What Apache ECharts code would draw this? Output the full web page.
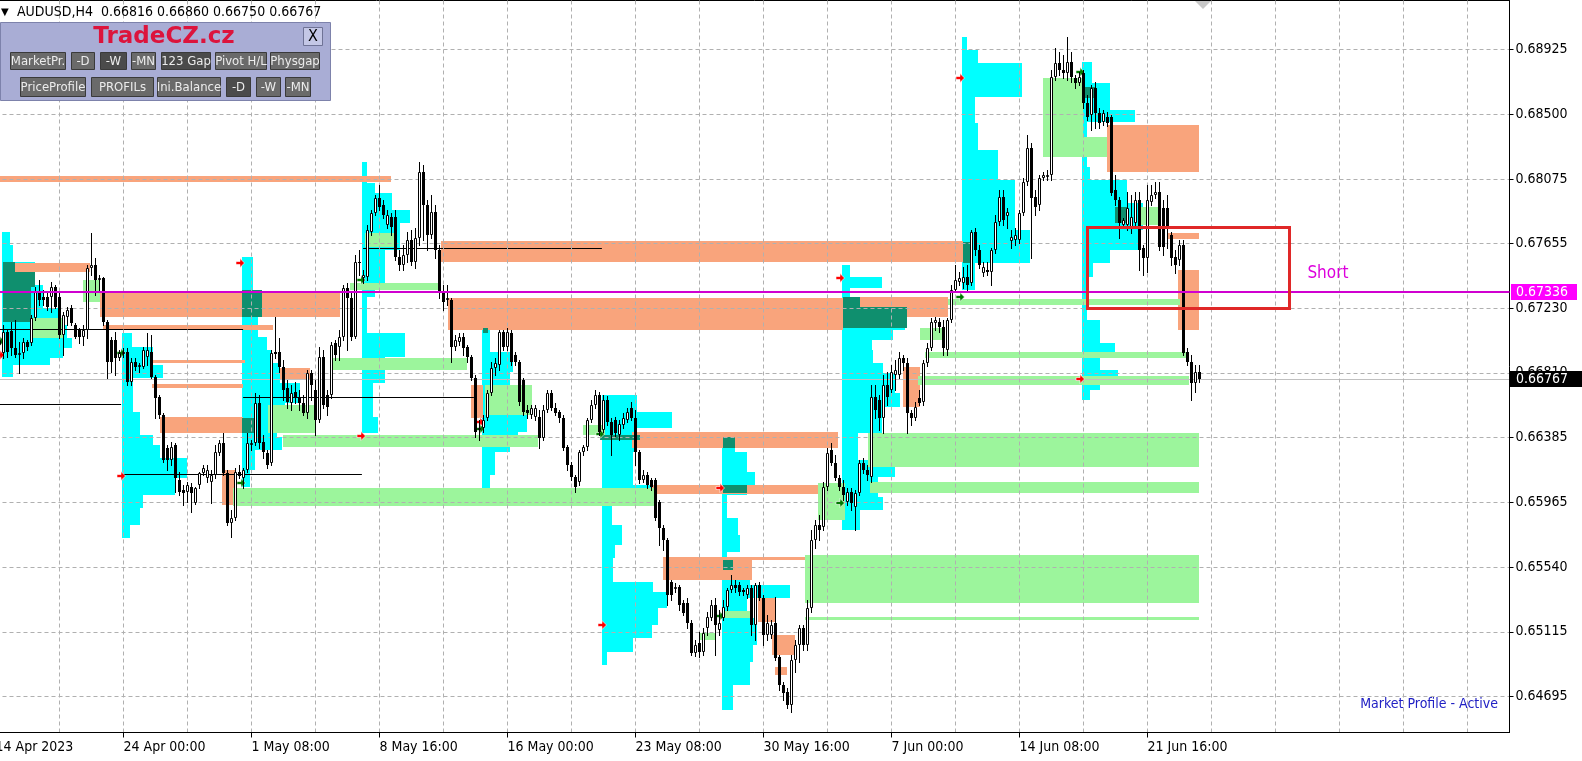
<!DOCTYPE html>
<html><head><meta charset="utf-8">
<script src="https://cdn.jsdelivr.net/npm/echarts@6/dist/echarts.min.js"></script>
<style>html,body{margin:0;padding:0;background:#fff;}#c{width:1582px;height:761px;}</style>
</head><body><div id="c"></div>
<script>
const FONT = '"DejaVu Sans Condensed","Liberation Sans Narrow","DejaVu Sans",sans-serif';

// ---------- axis labels ----------
const priceLabels = ['0.64695','0.65115','0.65540','0.65965','0.66385','0.66810','0.67230','0.67655','0.68075','0.68500','0.68925'];
const timeLabels = ['14 Apr 2023','24 Apr 00:00','1 May 08:00','8 May 16:00','16 May 00:00','23 May 08:00','30 May 16:00','7 Jun 00:00','14 Jun 08:00','21 Jun 16:00'];
const barsPerLabel = 32;
const symbolName = 'AUDUSD,H4';

// ---------- H4 candles [open, close, low, high] in 1e-5 units, bar index from 1 ----------
const ohlcStartBar = 1;
const ohlc = [
[66992,67024,66926,67057],[66939,67077,66907,67123],[67077,66946,66913,67090],[67083,66972,66926,67143],[66972,66926,66913,67156],
[66926,66939,66808,67011],[66939,67011,66907,67037],[67011,66979,66959,67024],[67005,67169,66992,67188],[67169,67338,67156,67371],
[67338,67286,67253,67417],[67306,67286,67253,67351],[67306,67240,67221,67338],[67306,67371,67207,67404],[67371,67240,67234,67384],
[67306,67057,67037,67338],[67057,67188,66926,67207],[67175,67221,67123,67240],[67234,67136,67123,67253],[67123,67044,67037,67136],
[67090,67044,67005,67103],[67044,67090,66992,67123],[67090,67496,67037,67515],[67496,67515,67450,67724],[67515,67417,67319,67561],
[67417,67430,67338,67450],[67430,67143,67123,67437],[67143,66880,66776,67156],[67024,66880,66815,67044],[67024,66907,66795,67077],
[66907,66939,66893,66959],[66939,66946,66913,66972],[66946,66749,66730,66972],[66749,66880,66730,66907],[66880,66848,66828,66907],
[66848,66861,66815,66874],[66848,66959,66841,66979],[66913,66959,66861,67070],[66946,66782,66776,67057],[66782,66645,66514,66795],
[66651,66534,66514,66664],[66534,66239,66226,66547],[66318,66239,66174,66337],[66239,66324,66207,66357],[66337,66122,66030,66350],
[66109,66030,66010,66161],[66043,66023,65945,66076],[66030,66076,65965,66096],[66063,66023,65899,66089],[65958,66056,65952,66063],
[66076,66154,66056,66161],[66154,66187,66141,66207],[66122,66174,66096,66207],[66096,66141,65958,66174],[66141,66292,66122,66337],
[66285,66350,66272,66370],[66350,66154,66141,66416],[66154,65827,65814,66174],[65827,65860,65735,65912],[65860,66161,65847,66187],
[66161,66135,66122,66207],[66122,66174,66056,66187],[66174,66350,66161,66416],[66337,66350,66305,66370],[66350,66612,66337,66677],
[66612,66350,66318,66664],[66357,66292,66252,66403],[66285,66207,66187,66305],[66220,66939,66207,66959],[66946,66933,66907,67175],
[66946,66848,66815,67037],[66848,66697,66632,66893],[66710,66619,66580,66763],[66612,66677,66567,66730],[66684,66645,66612,66749],
[66651,66612,66567,66697],[66612,66547,66534,66664],[66547,66808,66514,66828],[66808,66730,66632,66828],[66697,66501,66403,66763],
[66501,66913,66488,66979],[66913,66599,66580,66959],[66664,66586,66534,66697],[66664,66992,66645,67011],[67005,66926,66893,67024],
[66979,67044,66893,67090],[67044,67365,67024,67384],[67365,67299,66959,67397],[67299,67044,67024,67332],[67044,67535,67037,67580],
[67535,67528,67450,67613],[67430,67450,67397,67482],[67437,67744,67417,67777],[67731,67855,67711,67875],[67855,67954,67842,67973],
[67954,67894,67875,68039],[67907,67842,67823,67940],[67777,67842,67757,67875],[67829,67764,67711,67855],[67829,67567,67548,67875],
[67567,67515,67482,67613],[67515,67580,67482,67646],[67580,67679,67535,67731],[67679,67535,67515,67744],[67535,67692,67496,67757],
[67692,68124,67646,68189],[68124,67907,67679,68169],[67907,67711,67613,67940],[67711,67862,67692,67973],[67862,67613,67561,67907],
[67613,67338,67299,67646],[67338,67273,67221,67384],[67286,67299,67253,67384],[67286,66979,66880,67299],[66979,67024,66959,67057],
[67011,67044,66992,67070],[67044,66972,66926,67070],[66979,66913,66880,66992],[66913,66776,66763,66926],[66776,66422,66390,66795],
[66436,66449,66370,66501],[66449,66501,66422,66534],[66514,66677,66501,66697],[66677,66841,66664,66880],[66841,66874,66795,66907],
[66861,67077,66828,67090],[67077,66979,66959,67090],[66979,67077,66959,67103],[67070,66880,66861,67090],[66926,66880,66861,66946],
[66880,66619,66599,66893],[66763,66553,66534,66776],[66567,66547,66514,66599],[66534,66580,66514,66599],[66521,66580,66501,66599],
[66521,66383,66318,66567],[66383,66567,66370,66599],[66567,66677,66553,66697],[66677,66580,66567,66697],[66580,66547,66534,66612],
[66553,66514,66488,66567],[66514,66318,66305,66534],[66324,66207,66174,66337],[66207,66128,66109,66226],[66128,66063,66030,66141],
[66096,66292,66076,66305],[66292,66324,66272,66337],[66324,66501,66305,66514],[66501,66599,66488,66632],[66599,66664,66580,66697],
[66664,66422,66403,66684],[66436,66632,66422,66664],[66632,66488,66468,66658],[66488,66403,66272,66514],[66501,66416,66396,66521],
[66403,66475,66370,66501],[66468,66514,66449,66547],[66501,66553,66488,66580],[66580,66514,66501,66619],[66514,66292,66207,66567],
[66292,66109,66089,66305],[66109,66141,66096,66174],[66141,66076,66056,66161],[66109,66063,66043,66122],[66109,65860,65847,66122],
[65965,65794,65683,65978],[65794,65716,65650,65814],[65716,65356,65291,65729],[65441,65356,65323,65454],[65395,65408,65375,65434],
[65408,65291,65258,65421],[65304,65238,65225,65323],[65304,65173,65140,65336],[65173,64976,64963,65192],[64976,65029,64957,65061],
[65042,64983,64950,65114],[64983,65107,64963,65140],[65140,65212,65094,65245],[65205,65291,65192,65323],[65291,65160,64963,65336],
[65127,65173,65094,65258],[65205,65278,65192,65323],[65278,65389,65258,65402],[65389,65421,65375,65487],[65421,65402,65375,65454],
[65421,65375,65356,65441],[65389,65375,65356,65402],[65356,65402,65336,65421],[65402,65160,65094,65421],[65160,65421,65061,65434],
[65421,65336,65323,65441],[65336,65094,65029,65356],[65094,65173,65061,65225],[65094,65160,65074,65192],[65173,64944,64931,65343],
[64950,64767,64734,64963],[64767,64715,64669,64787],[64721,64636,64617,64747],[64636,64931,64591,64963],[64931,65029,64852,65061],
[65029,65140,64918,65160],[65140,65029,64996,65160],[65029,65271,64996,65323],[65271,65716,65245,65781],[65716,65814,65663,65847],
[65814,65781,65716,65879],[65801,66063,65781,66096],[66063,66285,66043,66318],[66305,66220,66207,66350],[66220,66122,66109,66272],
[66122,66063,66043,66141],[66063,66010,65978,66109],[65965,66030,65945,66056],[66030,65958,65912,66056],[65932,66023,65781,66043],
[66023,66220,66010,66239],[66220,66174,66154,66252],[66174,66141,66109,66207],[66128,66651,66096,66730],[66651,66567,66514,66730],
[66632,66514,66436,66664],[66514,66730,66416,66795],[66730,66651,66599,66815],[66697,66815,66684,66861],[66795,66828,66697,66893],
[66795,66907,66776,66946],[66907,66874,66828,66926],[66874,66547,66416,66907],[66547,66514,66468,66567],[66514,66586,66501,66619],
[66645,66612,66599,66697],[66619,66874,66599,66893],[66874,66972,66854,67005],[66972,67143,66959,67169],[67136,67156,67090,67175],
[67143,67110,67077,67169],[67110,66972,66926,67156],[66959,67156,66926,67169],[67156,67351,67143,67384],[67351,67417,67338,67515],
[67404,67430,67384,67469],[67397,67437,67365,67502],[67437,67384,67338,67515],[67397,67731,67384,67744],[67731,67613,67580,67757],
[67613,67515,67496,67646],[67463,67502,67443,67535],[67482,67469,67450,67535],[67469,67613,67384,67626],[67613,67796,67594,67842],
[67796,67960,67777,68006],[67960,67810,67777,68006],[67836,67862,67757,67888],[67672,67698,67626,67744],[67679,67711,67646,67757],
[67679,67855,67659,67875],[67855,68058,67842,68084],[68058,68281,68039,68366],[68281,67954,67561,68313],[67960,67894,67842,68006],
[67907,68084,67875,68104],[68084,68104,68071,68124],[68098,68104,68071,68137],[68104,68745,68071,68791],[68745,68837,68726,68935],
[68837,68791,68758,68909],[68791,68771,68739,68889],[68771,68843,68726,69007],[68843,68745,68712,68909],[68739,68706,68673,68758],
[68706,68745,68693,68778],[68771,68575,68542,68791],[68575,68483,68464,68627],[68497,68673,68398,68693],[68673,68510,68411,68712],
[68510,68444,68411,68542],[68451,68510,68431,68529],[68483,68444,68425,68516],[68483,67986,67973,68497],[68006,67940,67907,68104],
[67940,67790,67692,67960],[67777,67810,67757,67823],[67777,67888,67744,67993],[67764,67829,67724,67973],[67790,67940,67770,67993],
[67940,67613,67482,67993],[67626,67561,67450,67646],[67561,67940,67469,68039],[67927,67973,67907,68039],[67973,67993,67954,68058],
[67993,67633,67613,68058],[67888,67633,67580,67940],[67888,67757,67626,67973],[67711,67561,67515,67731],[67567,67515,67463,67613],
[67548,67646,67515,67679],[67646,66939,66926,67679],[66946,66880,66861,66972],[66880,66743,66632,66926],[66743,66815,66684,66861],
[66816,66767,66750,66860]
];

// ---------- weekly market profiles: start bar, rows [top, bottom, length in bars] ----------
const profileStarts = [2, 32, 62, 92, 122, 152, 182, 212, 242, 272];
const profileRows = [
 [[67731,67646,2.1],[67646,67535,2.9],[67535,67384,8.4],[67384,67234,10.4],[67234,67123,14.6],[67123,67037,16.4],[67037,66972,17.6],[66972,66907,15.4],[66907,66861,12.1],[66861,66782,2.9]],
 [[67070,66979,2.6],[66979,66861,7.9],[66861,66776,10.4],[66776,66553,2.9],[66553,66403,4.6],[66403,66337,7.9],[66337,66252,9.6],[66252,66122,16.4],[66122,66010,13.4],[66010,65925,5.4],[65925,65814,4.6],[65814,65729,2.1]],
 [[67567,67351,2.9],[67351,67175,5.1],[67175,67044,4.1],[67044,66959,6.4],[66959,66874,7.6],[66874,66743,9.6],[66743,66612,14.6],[66612,66521,10.9],[66521,66390,8.9],[66390,66305,10.1],[66305,66174,3.4],[66174,66063,2.1]],
 [[68189,68052,1.4],[68052,67986,3.4],[67986,67875,7.6],[67875,67790,12.1],[67790,67613,9.6],[67613,67397,5.9],[67397,67306,3.4],[67306,67070,1.4],[67070,66913,10.9],[66913,66743,5.9],[66743,66521,2.9],[66521,66416,4.1]],
 [[67103,66946,2.1],[66946,66815,7.9],[66815,66730,7.1],[66730,66534,12.6],[66534,66422,11.4],[66422,66357,9.1],[66357,66292,7.1],[66292,66141,3.4],[66141,66043,2.1]],
 [[66664,66553,8.9],[66553,66449,17.6],[66449,66292,8.9],[66292,66076,7.9],[66076,65945,12.9],[65945,65814,2.6],[65814,65683,5.1],[65683,65598,3.4],[65598,65441,2.9],[65441,65375,12.9],[65375,65271,16.4],[65271,65160,14.1],[65160,65074,12.6],[65074,64983,7.9],[64983,64898,1.4]],
 [[66390,66292,3.4],[66292,66161,6.4],[66161,66076,8.4],[66076,66010,6.4],[66010,65860,1.4],[65860,65748,4.1],[65748,65637,4.6],[65637,65533,1.4],[65533,65421,7.1],[65421,65336,17.1],[65336,65205,6.4],[65205,65029,8.9],[65029,64918,7.9],[64918,64767,7.1],[64767,64604,2.9]],
 [[67515,67437,2.1],[67437,67365,10.1],[67365,67306,2.1],[67306,67090,15.9],[67090,67024,12.9],[67024,66959,7.6],[66959,66874,7.9],[66874,66808,10.4],[66808,66677,13.4],[66677,66586,14.6],[66586,66416,10.1],[66416,66239,4.1],[66239,66128,13.4],[66128,65997,9.1],[65997,65912,10.4],[65912,65781,4.6]],
 [[69007,68922,1.4],[68922,68837,4.1],[68837,68614,15.1],[68614,68444,3.4],[68444,68268,4.1],[68268,68071,9.1],[68071,67744,13.4],[67744,67528,17.1],[67528,67351,3.4]],
 [[68843,68706,2.6],[68706,68529,7.1],[68529,68451,13.4],[68451,68156,1.4],[68156,68071,2.1],[68071,67920,11.4],[67920,67744,15.4],[67744,67613,14.6],[67613,67528,7.1],[67528,67437,2.9],[67437,67306,1.6],[67306,67156,1.4],[67156,67005,4.6],[67005,66913,8.4],[66913,66828,4.6],[66828,66782,9.1],[66782,66697,4.6],[66697,66632,2.1]]
];

// ---------- zones [fromBar, toBar, upperPrice, lowerPrice] ----------
const valueAreaZones = [[1.9,9.9,67469,67371],[1.9,4.9,67535,67469],[1.9,8.9,67371,67143],[61.6,66.6,67351,67175],[61.6,65.4,66514,66416],[181.9,184.9,66390,66318],[181.9,187.9,66076,66023],[181.9,184.4,65585,65520],[211.9,216.1,67306,67103],[211.9,227.9,67240,67103],[151.1,161.1,66403,66370],[279.9,283.1,67894,67790],[271.9,274.9,68680,68608],[241.9,244.1,67666,67528],[121.9,123.1,67103,67070]];
const supplyZones = [[0,98.9,68097,68058],[4.9,23.6,67528,67469],[26.1,86.1,67338,67175],[26.9,69.4,67123,67090],[39.4,62.4,66893,66874],[39.1,61.9,66736,66710],[41.1,61.9,66521,66416],[71.1,78.6,66841,66763],[56.6,59.9,66174,65945],[111.4,241.9,67672,67535],[113.1,211.9,67299,67090],[211.9,238.1,67306,67175],[118.9,121.9,66730,66514],[159.1,210.6,66422,66318],[164.1,206.6,66076,66017],[166.9,189.1,65605,65454],[189.1,203.6,65605,65585],[190.6,194.9,65336,65179],[194.1,199.9,65094,64963],[194.9,197.9,64885,64833],[226.9,231.1,66848,66586],[277.9,300.9,68431,68124],[270.6,272.9,68680,68608],[292.9,300.9,67724,67685],[295.6,300.9,67482,67090]];
const demandZones = [[9.1,16.9,67168,67037],[21.9,26.1,67417,67273],[59.4,165.1,66056,65938],[71.9,135.6,66403,66324],[83.6,117.9,66907,66828],[88.6,111.1,67397,67351],[68.1,79.9,66599,66416],[92.4,99.9,67724,67633],[122.4,134.1,66730,66534],[146.9,152.4,66468,66403],[181.9,188.6,65251,65205],[176.1,179.9,65107,65061],[202.4,300.9,65618,65304],[202.4,300.9,65212,65192],[218.1,300.9,66416,66193],[218.6,300.9,66096,66023],[230.6,298.4,66789,66730],[232.4,298.4,66946,66907],[238.1,296.1,67293,67253],[261.9,271.9,68739,68222],[271.9,277.9,68353,68222],[286.1,291.1,67894,67777],[205.6,212.4,66089,65847],[231.1,237.4,67103,67024]];
// naked POC lines [fromBar, toBar, price]
const pocLines = [[0,61.9,67090],[0,31.4,66603],[31.9,91.6,66146],[61.9,119.6,66648],[91.9,151.6,67624]];
// markers [bar, price, 0=red/1=green]
const markers = [[61.1,67528,0],[31.4,66135,0],[91.4,66396,0],[1.1,66926,0],[181.1,66056,0],[151.6,65160,0],[241.1,68739,0],[211.1,67430,0],[271.1,66769,0],[121.1,66488,0],
 [1.1,67018,1],[31.4,66939,1],[61.4,66089,1],[91.4,67417,1],[121.1,66442,1],[151.1,66409,1],[181.1,65219,1],[211.1,65958,1],[241.1,67306,1],[271.1,68778,1]];
const levelPrice = 67336;           // horizontal level
const shortBox = [272.9, 323.4, 67764, 67234];
const shortText = [333.1, 67456];

// ---------- derived ----------
const S = v => v / 1e5;
const lastBar = ohlc[ohlc.length - 1];
const bidPrice = S(lastBar[1]);
const candleData = ohlc.map((r, k) => [ohlcStartBar + k, S(r[0]), S(r[1]), S(r[2]), S(r[3])]);
const zoneData = list => list.map(r => [r[0], r[1], S(r[2]), S(r[3])]);
const profileData = [];
profileStarts.forEach((s, k) => profileRows[k].forEach(r => profileData.push([s - 0.5, s - 0.5 + r[2], S(r[0]), S(r[1])])));
const yTickValues = priceLabels.map(Number);
const X_MAX = 378.5;

function rectRender(fill) {
  return function (params, api) {
    const a = api.coord([api.value(0), api.value(2)]);
    const b = api.coord([api.value(1), api.value(3)]);
    const x0 = Math.round(a[0]), x1 = Math.round(b[0]), y0 = Math.round(a[1]), y1 = Math.round(b[1]);
    return {type: 'rect', shape: {x: x0, y: y0, width: Math.max(1, x1 - x0), height: Math.max(1, y1 - y0)}, style: {fill: fill}};
  };
}
function rectSeries(data, fill, z) {
  return {type: 'custom', data: data, z: z, silent: true, clip: true, encode: {x: [0, 1], y: [2, 3]}, renderItem: rectRender(fill)};
}
function hlineSeries(data, color, width, z) {
  return {type: 'custom', data: data, z: z, silent: true, clip: true, encode: {x: [0, 1], y: 2},
    renderItem: function (params, api) {
      const a = api.coord([api.value(0), api.value(2)]);
      const b = api.coord([api.value(1), api.value(2)]);
      const y = width % 2 ? Math.round(a[1] - 0.5) + 0.5 : Math.round(a[1]);
      return {type: 'line', shape: {x1: a[0], y1: y, x2: b[0], y2: y}, style: {stroke: color, lineWidth: width}};
    }};
}
function candleRender(params, api) {
  const i = api.value(0), o = api.value(1), c = api.value(2), l = api.value(3), h = api.value(4);
  const po = api.coord([i, o]);
  const cx = Math.floor(po[0] + 0.001) + 0.5;
  const yo = po[1], yc = api.coord([i, c])[1], yl = api.coord([i, l])[1], yh = api.coord([i, h])[1];
  const top = Math.round(Math.min(yo, yc)), bot = Math.round(Math.max(yo, yc));
  const kids = [{type: 'line', shape: {x1: cx, y1: Math.round(yh), x2: cx, y2: Math.round(yl) + 1}, style: {stroke: '#000', lineWidth: 1}}];
  if (c > o) {
    kids.push({type: 'rect', shape: {x: cx - 1, y: top + 0.5, width: 2, height: Math.max(bot - top - 1, 1)}, style: {fill: '#fff', stroke: '#000', lineWidth: 1}});
  } else {
    kids.push({type: 'rect', shape: {x: cx - 1.5, y: top, width: 3, height: Math.max(bot - top, 1)}, style: {fill: '#000'}});
  }
  return {type: 'group', children: kids};
}

const chart = echarts.init(document.getElementById('c'), null, {renderer: 'canvas', width: 1582, height: 761});

const gridLine = {type: [4, 3], color: '#b0b0b0', width: 1};
const option = {
  animation: false,
  backgroundColor: '#ffffff',
  grid: {left: -4.5, right: 72.5, top: 0.5, bottom: 28.5, show: true, borderColor: '#000', borderWidth: 1, backgroundColor: 'transparent',
         containLabel: false, outerBoundsMode: 'none'},
  xAxis: [
    {type: 'value', min: 0, max: X_MAX, interval: 16, position: 'bottom', z: 6,
     axisLine: {show: true, onZero: false, lineStyle: {color: '#000', width: 1}},
     axisTick: {show: false}, axisLabel: {show: false},
     splitLine: {show: true, lineStyle: gridLine}},
    {type: 'value', min: 0, max: X_MAX, position: 'bottom', z: 6,
     axisLine: {show: false, onZero: false},
     axisTick: {show: true, customValues: timeLabels.slice(1).map((t, k) => (k + 1) * barsPerLabel), length: 5, lineStyle: {color: '#000'}},
     axisLabel: {show: true, customValues: timeLabels.map((t, k) => k * barsPerLabel),
       formatter: v => timeLabels[Math.round(v / barsPerLabel)] || '',
       align: 'left', margin: 8, color: '#000', fontFamily: FONT, fontSize: 14},
     splitLine: {show: false}}
  ],
  yAxis: {type: 'value', position: 'right', min: 0.644563, max: 0.692457, z: 6, scale: true,
    axisLine: {show: true, onZero: false, lineStyle: {color: '#000', width: 1}},
    axisTick: {show: true, customValues: yTickValues, length: 4, lineStyle: {color: '#000'}},
    axisLabel: {show: true, customValues: yTickValues, margin: 6, color: '#000', fontFamily: FONT, fontSize: 14,
      formatter: v => { const k = yTickValues.findIndex(t => Math.abs(t - v) < 1e-7); return k >= 0 ? priceLabels[k] : ''; }},
    splitLine: {show: true, lineStyle: gridLine}},
  series: [
    rectSeries(profileData, '#00ffff', 1),
    rectSeries(zoneData(supplyZones), '#f9a47c', 2),
    rectSeries(zoneData(demandZones), '#9cf59c', 3),
    rectSeries(zoneData(valueAreaZones), '#0f8f6e', 4),
    hlineSeries(pocLines.map(r => [r[0], r[1], S(r[2])]), '#000', 1, 5),
    hlineSeries([[0, X_MAX, bidPrice]], '#c0c0c0', 1, 5),
    {type: 'custom', data: markers.map(m => [m[0], S(m[1]), m[2]]), z: 7, silent: true, clip: true, encode: {x: 0, y: 1},
     renderItem: function (params, api) {
       const c = api.coord([api.value(0), api.value(1)]);
       const x = Math.round(c[0]), y = Math.round(c[1]);
       const col = api.value(2) ? '#007a00' : '#ff0000';
       return {type: 'polygon', shape: {points: [[x - 4, y - 1.5], [x, y - 1.5], [x, y - 4.5], [x + 4.5, y], [x, y + 4.5], [x, y + 1.5], [x - 4, y + 1.5]]},
         style: {fill: col, stroke: '#ffffff', lineWidth: 0.6}};
     }},
    {type: 'custom', data: candleData, z: 10, silent: true, clip: true, encode: {x: 0, y: [1, 2, 3, 4]}, renderItem: candleRender},
    hlineSeries([[0, X_MAX, S(levelPrice)]], '#d000d0', 2, 11),
    {type: 'custom', data: [[shortBox[0], shortBox[1], S(shortBox[2]), S(shortBox[3])]], z: 12, silent: true, clip: true, encode: {x: [0, 1], y: [2, 3]},
     renderItem: function (params, api) {
       const a = api.coord([api.value(0), api.value(2)]);
       const b = api.coord([api.value(1), api.value(3)]);
       return {type: 'rect', shape: {x: Math.round(a[0]) + 0.5, y: Math.round(a[1]) + 0.5, width: Math.round(b[0] - a[0]), height: Math.round(b[1] - a[1])},
         style: {fill: 'none', stroke: '#e02828', lineWidth: 3}};
     }},
    {type: 'custom', data: [[shortText[0], S(shortText[1])]], z: 12, silent: true, clip: false, encode: {x: 0, y: 1},
     renderItem: function (params, api) {
       const c = api.coord([api.value(0), api.value(1)]);
       return {type: 'text', x: c[0], y: c[1], style: {text: 'Short', fill: '#dd00dd', font: '17px ' + FONT, align: 'center', verticalAlign: 'middle', textAlign: 'center', textVerticalAlign: 'middle'}};
     }},
    {type: 'custom', data: [[S(levelPrice), 0], [bidPrice, 1]], z: 20, silent: true, clip: false, encode: {y: 0},
     renderItem: function (params, api) {
       const price = api.value(0), kind = api.value(1);
       const y = Math.round(api.coord([0, price])[1]);
       const x0 = params.coordSys.x + params.coordSys.width;
       const bg = kind ? '#000000' : '#ff00ff';
       const w = kind ? 72 : 66;
       return {type: 'group', children: [
         {type: 'rect', shape: {x: Math.round(x0) + (kind ? 0 : 1), y: y - 8, width: w, height: 16}, style: {fill: bg}},
         {type: 'text', x: Math.round(x0) + 6, y: y, style: {text: price.toFixed(5), fill: '#ffffff', font: '14px ' + FONT, align: 'left', verticalAlign: 'middle', textAlign: 'left', textVerticalAlign: 'middle'}}
       ]};
     }}
  ]
};
chart.setOption(option);

// ---------- terminal decorations ----------
const btnRow1 = [['MarketPr.', 10, 55, 0], ['-D', 71, 23, 0], ['-W', 100, 26, 1], ['-MN', 131, 24, 0], ['123 Gap', 161, 49, 1], ['Pivot H/L', 215, 51, 0], ['Physgap', 270, 49, 0]];
const btnRow2 = [['PriceProfile', 20, 65, 0], ['PROFILs', 91, 62, 0], ['Ini.Balance', 157, 63, 0], ['-D', 226, 24, 1], ['-W', 256, 24, 0], ['-MN', 285, 25, 0]];
const g = [];
const fx = v => (v / 1e5).toFixed(5);
g.push({type: 'text', x: 1, y: 12, z: 100, style: {text: '\u25BC', fill: '#000', font: '10px "DejaVu Sans"', align: 'left', verticalAlign: 'middle', textAlign: 'left', textVerticalAlign: 'middle'}});
g.push({type: 'text', x: 17, y: 12, z: 100, style: {text: symbolName + '  ' + fx(lastBar[0]) + ' ' + fx(lastBar[3]) + ' ' + fx(lastBar[2]) + ' ' + fx(lastBar[1]), fill: '#000', font: '14px ' + FONT, align: 'left', verticalAlign: 'middle', textAlign: 'left', textVerticalAlign: 'middle'}});
g.push({type: 'rect', z: 100, shape: {x: 0.5, y: 22.5, width: 330, height: 78}, style: {fill: '#a9add5', stroke: '#7d82ab', lineWidth: 1}});
g.push({type: 'text', x: 164, y: 37, z: 101, style: {text: 'TradeCZ.cz', fill: '#dc143c', font: 'bold 23px "DejaVu Sans"', align: 'center', verticalAlign: 'middle', textAlign: 'center', textVerticalAlign: 'middle'}});
g.push({type: 'rect', z: 101, shape: {x: 303.5, y: 27.5, width: 19, height: 18}, style: {fill: '#c4c7e6', stroke: '#6f7396', lineWidth: 1}});
g.push({type: 'text', x: 313, y: 37, z: 102, style: {text: 'X', fill: '#000', font: '16px ' + FONT, align: 'center', verticalAlign: 'middle', textAlign: 'center', textVerticalAlign: 'middle'}});
function addBtns(row, y, h) {
  row.forEach(b => {
    g.push({type: 'rect', z: 101, shape: {x: b[1] + 0.5, y: y + 0.5, width: b[2], height: h}, style: {fill: b[3] ? '#4b4b4b' : '#6a6a6a', stroke: '#3a3a3a', lineWidth: 1}});
    g.push({type: 'text', x: b[1] + b[2] / 2 + 0.5, y: y + h / 2 + 1, z: 102, style: {text: b[0], fill: '#ececec', font: '13px ' + FONT, align: 'center', verticalAlign: 'middle', textAlign: 'center', textVerticalAlign: 'middle'}});
  });
}
addBtns(btnRow1, 52, 17);
addBtns(btnRow2, 77, 19);
g.push({type: 'polygon', z: 100, shape: {points: [[1195, 1], [1211, 1], [1203, 9]]}, style: {fill: '#c8c8c8'}});
g.push({type: 'text', x: 1498, y: 704, z: 100, style: {text: 'Market Profile - Active', fill: '#2121c4', font: '14px ' + FONT, align: 'right', verticalAlign: 'middle', textAlign: 'right', textVerticalAlign: 'middle'}});
chart.setOption({graphic: {elements: g}});
</script>
</body></html>
